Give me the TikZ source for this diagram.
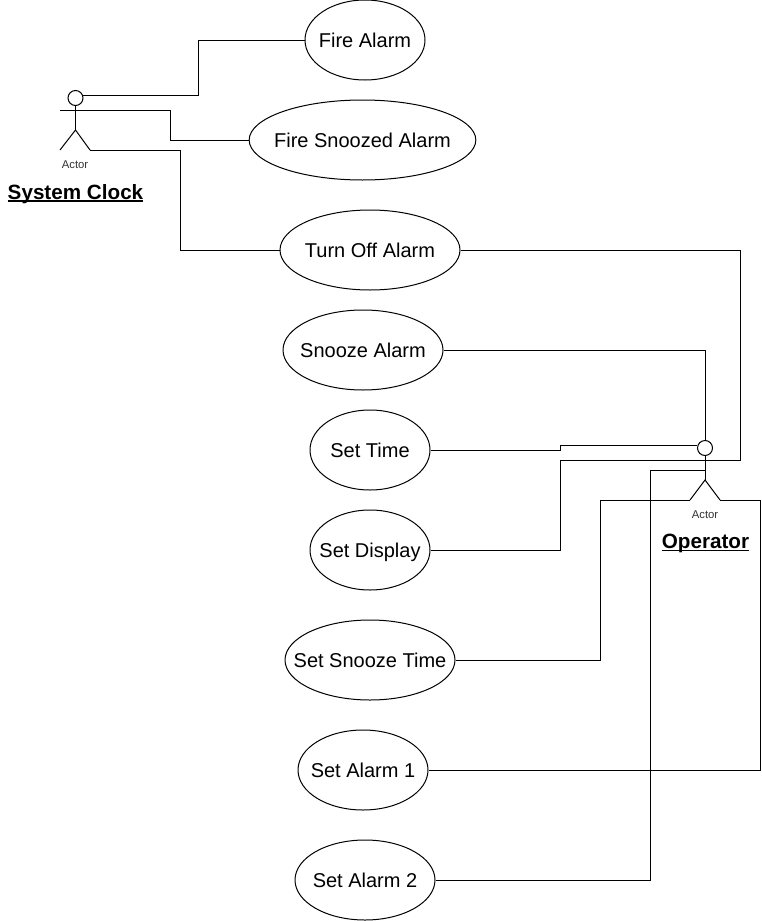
\documentclass[tikz,border=0pt]{standalone}
\usepackage{fontspec}
\setmainfont{Liberation Sans}
\usetikzlibrary{shapes.geometric}
\newcommand{\nameline}[1]{\setbox0\hbox{#1}\rlap{\rule[-2pt]{\wd0}{1.1pt}}\box0}
\tikzset{
	usecase/.style={draw, ellipse, inner sep=-30pt, minimum height=60pt, text height=13pt, text depth=1.5pt, font=\fontsize{15}{18}\selectfont},
	actorhead/.style={draw, circle, inner sep=0pt, minimum size=11.25pt},
	actorname/.style={anchor=base, inner sep=0pt, font=\fontsize{15.5}{18}\selectfont\bfseries},
	actortag/.style={font=\fontsize{8.5}{10}\selectfont, text=black!80},
}
\begin{document}
\begin{tikzpicture}[x=.75pt, y=-.75pt, line width=.75pt]
		\useasboundingbox (0,0) rectangle (762,921);
		\node[usecase, minimum width=90pt] (firealarm) at (365,40) {Fire Alarm};
		\node[usecase, minimum width=170pt] (firesnoozed) at (362.5,140) {Fire Snoozed Alarm};
		\node[usecase, minimum width=135pt] (turnoff) at (370,250) {Turn Off Alarm};
		\node[usecase, minimum width=120pt] (snooze) at (363,350) {Snooze Alarm};
		\node[usecase, minimum width=90pt] (settime) at (370,450) {Set Time};
		\node[usecase, minimum width=90pt] (setdisplay) at (370,550) {Set Display};
		\node[usecase, minimum width=127.5pt] (setsnooze) at (370,660) {Set Snooze Time};
		\node[usecase, minimum width=97.5pt] (setalarma) at (363,770) {Set Alarm 1};
		\node[usecase, minimum width=105pt] (setalarmb) at (365,880) {Set Alarm 2};

		\node[actorhead] (clockhead) at (75.5,98) {};
		\coordinate (clockhip) at (75.5,130);
		\coordinate (clockarml) at (60,110);
		\coordinate (clockarmr) at (90,110);
		\coordinate (clocklegl) at (60,150);
		\coordinate (clocklegr) at (90,150);
		\draw (clockhead) -- (clockhip);
		\draw (clockarml) -- (clockarmr);
		\draw (clocklegl) -- (clockhip) -- (clocklegr);
		\node[actortag] (clocktag) at (75,165) {Actor};
		\node[actorname] (clockname) at (75.5,199) {\nameline{System Clock}};

		\node[actorhead] (ophead) at (705,448) {};
		\coordinate (ophip) at (705,480);
		\coordinate (oparml) at (690,460);
		\coordinate (oparmr) at (720,460);
		\coordinate (oplegl) at (690,500);
		\coordinate (oplegr) at (720,500);
		\coordinate (opbody) at (705,470);
		\draw (ophead) -- (ophip);
		\draw (oparml) -- (oparmr);
		\draw (oplegl) -- (ophip) -- (oplegr);
		\node[actortag] (optag) at (705,515) {Actor};
		\node[actorname] (opname) at (705.5,548.5) {\nameline{Operator}};

		\draw (clockhead.15) -| (198,40) -- (firealarm.west);
		\draw (clockarmr) -- (170,110) -- (170,140) -- (firesnoozed.west);
		\draw (clocklegr) -- (180,150) -- (180,250) -- (turnoff.west);

		\draw (turnoff.east) -- (740,250) -- (740,460) -- (oparmr);
		\draw (snooze.east) -- (705,350) -- (ophead.north);
		\draw (settime.east) -- (560,450) |- (ophead.165);
		\draw (setdisplay.east) -- (560,550) -- (560,460) -- (oparml);
		\draw (setsnooze.east) -- (600,660) -- (600,500) -- (oplegl);
		\draw (setalarma.east) -- (760,770) -- (760,500) -- (oplegr);
		\draw (setalarmb.east) -- (650,880) -- (650,470) -- (opbody);
	\end{tikzpicture}
\end{document}
